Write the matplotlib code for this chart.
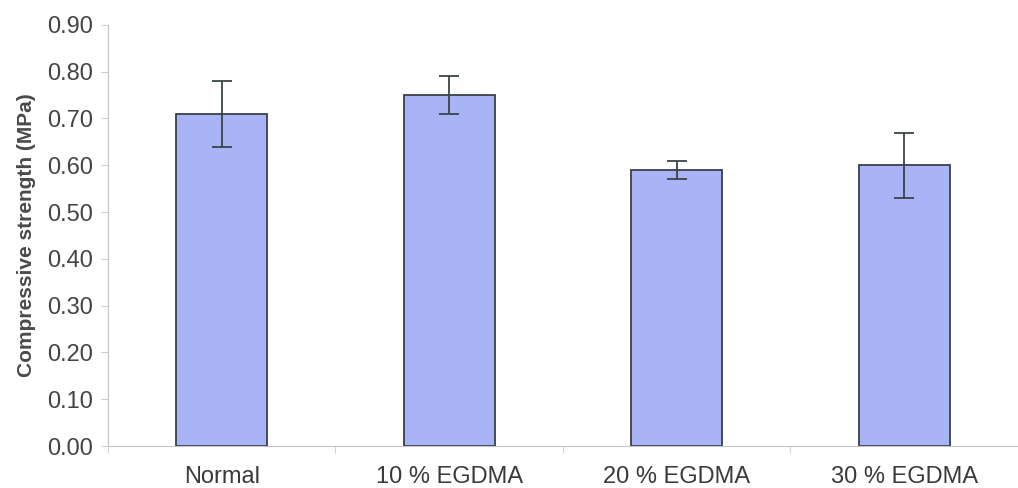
import matplotlib.pyplot as plt
import numpy as np

plt.rcParams['font.family'] = ['Liberation Sans', 'DejaVu Sans']

groupes = ["Normal", "10 % EGDMA", "20 % EGDMA", "30 % EGDMA"]
resistance = [0.71, 0.75, 0.59, 0.60]
ecart = [0.07, 0.04, 0.02, 0.07]

fig = plt.figure(figsize=(10.18, 4.88), dpi=100)
ax = fig.add_axes([0.106, 0.086, 0.894, 0.863])

x = np.arange(len(groupes))
ax.bar(x, resistance, width=0.4, color="#a9b4f6", edgecolor="#3a3f4a", linewidth=1.3,
       yerr=ecart, error_kw=dict(ecolor="#3a4448", elinewidth=1.3, capsize=7, capthick=1.3))

ax.set_xlim(-0.5, len(groupes) - 0.5)
ax.set_ylim(0, 0.90)
ax.set_yticks(np.arange(0, 0.91, 0.10))
ax.set_yticklabels(["%.2f" % v for v in np.arange(0, 0.91, 0.10)])
ax.set_xticks(x)
ax.set_xticklabels(groupes)
ax.set_xticks(np.arange(-0.5, len(groupes)), minor=True)

ax.tick_params(axis="x", which="major", length=0, pad=14.5, labelsize=17, labelcolor="#3a3a3a")
ax.tick_params(axis="x", which="minor", length=5, color="#cccccc", direction="out")
ax.tick_params(axis="y", length=5, color="#cccccc", labelsize=17, labelcolor="#444444", pad=6)

for s in ["top", "right"]:
    ax.spines[s].set_visible(False)
for s in ["left", "bottom"]:
    ax.spines[s].set_color("#c4c4c4")

ax.set_ylabel("Compressive strength (MPa)", fontsize=15, fontweight="bold", color="#4a4a4a", labelpad=8)

fig.savefig("out.png", dpi=100)
